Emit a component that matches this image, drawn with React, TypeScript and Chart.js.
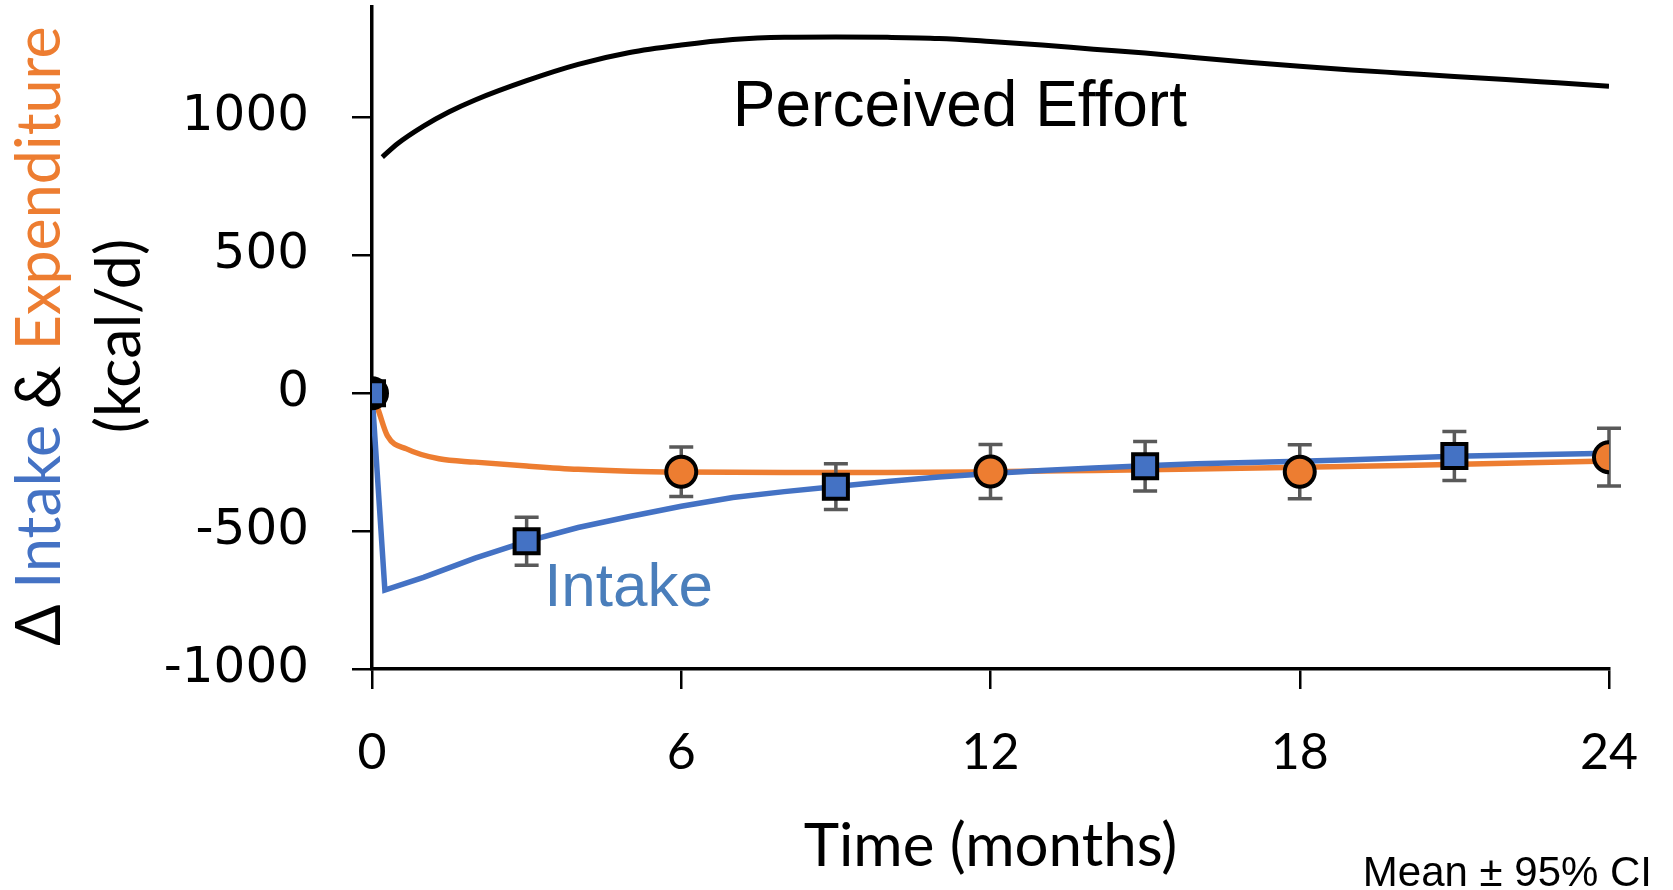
import React, { useEffect, useRef } from "react";
import { Chart, registerables } from "chart.js";

Chart.register(...registerables);

// Modelled perceived effort (kcal/d)
const effortMonths = [0.2, 0.5, 1, 1.5, 2, 3, 4, 5, 6, 7, 8, 9, 10, 11, 12, 13, 14, 15, 16, 17, 18, 19, 20, 21, 22, 23, 24];
const effortValues = [856, 905, 968, 1020, 1063, 1133, 1192, 1235, 1262, 1282, 1290, 1291, 1290, 1286, 1275, 1262, 1247, 1233, 1216, 1200, 1185, 1172, 1160, 1148, 1137, 1125, 1113];

// Modelled change in energy expenditure (kcal/d)
const expenditureMonths = [0, 0.12, 0.3, 0.67, 1.3, 2, 3, 4, 5, 6, 8, 10, 12, 14, 16, 18, 20, 22, 24];
const expenditureValues = [0, -60, -155, -202, -238, -250, -264, -276, -283, -286, -288, -288, -285, -280, -275, -269, -262, -254, -246];

// Modelled change in energy intake (kcal/d)
const intakeMonths = [0, 0.25, 1, 2, 3, 4, 5, 6, 7, 8, 9, 10, 11, 12, 13, 14, 15, 16, 17, 18, 19, 20, 21, 22, 23, 24];
const intakeValues = [0, -714, -668, -598, -537, -487, -447, -410, -378, -357, -338, -320, -304, -291, -280, -271, -263, -256, -251, -247, -241, -235, -229, -225, -221, -218];

// Measured means with 95% CI half-widths
const intakeMeasuredMonths = [0, 3, 9, 15, 21];
const intakeMeasuredMeans = [0, -537, -339, -265, -228];
const intakeMeasuredCI = [0, 87, 83, 90, 89];

const expenditureMeasuredMonths = [0, 6, 12, 18, 24];
const expenditureMeasuredMeans = [0, -285, -284, -285, -232];
const expenditureMeasuredCI = [0, 90, 98, 98, 105];

const xTickValues = [0, 6, 12, 18, 24];
const yTickValues = [-1000, -500, 0, 500, 1000];

const BLUE = "#4472C4";
const ORANGE = "#ED7D31";
const LABEL_BLUE = "#4A7EBB";
const ERR_GREY = "#595959";

const toPoints = (xs: number[], ys: number[]) => xs.map((x, i) => ({ x, y: ys[i] }));

const errorBarPlugin = {
  id: "errorBars",
  beforeDatasetDraw(chart: any, args: any) {
    const ds = chart.data.datasets[args.index];
    if (!ds.ci) return;
    const { ctx, scales } = chart;
    const xs = scales.x;
    const ys = scales.y;
    ctx.save();
    ctx.strokeStyle = ERR_GREY;
    ctx.lineWidth = 3.5;
    ds.data.forEach((p: any, i: number) => {
      const h = ds.ci[i];
      if (!h) return;
      const px = xs.getPixelForValue(p.x);
      const top = ys.getPixelForValue(p.y + h);
      const bot = ys.getPixelForValue(p.y - h);
      ctx.beginPath();
      ctx.moveTo(px, top);
      ctx.lineTo(px, bot);
      ctx.moveTo(px - 12, top);
      ctx.lineTo(px + 12, top);
      ctx.moveTo(px - 12, bot);
      ctx.lineTo(px + 12, bot);
      ctx.stroke();
    });
    ctx.restore();
  },
};

const textPlugin = {
  id: "texts",
  afterDraw(chart: any) {
    const { ctx, scales } = chart;
    const xs = scales.x;
    const ys = scales.y;
    ctx.save();

    // rotated y-axis title in two lines
    ctx.save();
    ctx.translate(60, 336);
    ctx.rotate(-Math.PI / 2);
    ctx.font = "61px Lato, 'DejaVu Sans'";
    ctx.textBaseline = "alphabetic";
    ctx.textAlign = "left";
    const parts: [string, string][] = [
      ["\u0394 ", "#000"],
      ["Intake", BLUE],
      [" & ", "#000"],
      ["Expenditure", ORANGE],
    ];
    const total = parts.reduce((s, [t]) => s + ctx.measureText(t).width, 0);
    let cx = -total / 2;
    for (const [t, c] of parts) {
      ctx.fillStyle = c;
      ctx.fillText(t, cx, 0);
      cx += ctx.measureText(t).width;
    }
    ctx.fillStyle = "#000";
    ctx.textAlign = "center";
    ctx.fillText("(kcal/d)", 0, 80);
    ctx.restore();

    // x-axis title
    ctx.fillStyle = "#000";
    ctx.font = "60px Lato";
    ctx.textAlign = "center";
    ctx.textBaseline = "alphabetic";
    ctx.fillText("Time (months)", (chart.chartArea.left + chart.chartArea.right) / 2, 866);

    // series annotations
    ctx.textAlign = "left";
    ctx.font = "64px 'Liberation Sans', Arial";
    ctx.fillStyle = "#000";
    ctx.fillText("Perceived Effort", xs.getPixelForValue(7.0), ys.getPixelForValue(970));
    ctx.font = "62px 'Liberation Sans', Arial";
    ctx.fillStyle = LABEL_BLUE;
    ctx.fillText("Intake", xs.getPixelForValue(3.34), ys.getPixelForValue(-770));

    // footnote
    ctx.fillStyle = "#000";
    ctx.font = "42px 'Liberation Sans', Arial";
    ctx.textAlign = "right";
    ctx.fillText("Mean \u00B1 95% CI", 1652, 886);
    ctx.restore();
  },
};

export default function App() {
  const canvasRef = useRef<HTMLCanvasElement | null>(null);

  useEffect(() => {
    const canvas = canvasRef.current;
    if (!canvas) return;
    const chart = new Chart(canvas, {
      type: "line",
      data: {
        datasets: [
          {
            label: "Intake (measured)",
            data: toPoints(intakeMeasuredMonths, intakeMeasuredMeans),
            ci: intakeMeasuredCI,
            showLine: false,
            pointStyle: "rect",
            pointRadius: 17,
            backgroundColor: BLUE,
            pointBackgroundColor: BLUE,
            pointBorderColor: "#000",
            pointBorderWidth: 4,
            order: 0,
          } as any,
          {
            label: "Expenditure (measured)",
            data: toPoints(expenditureMeasuredMonths, expenditureMeasuredMeans),
            ci: expenditureMeasuredCI,
            showLine: false,
            pointStyle: "circle",
            pointRadius: 15,
            backgroundColor: ORANGE,
            pointBackgroundColor: ORANGE,
            pointBorderColor: "#000",
            pointBorderWidth: 4,
            order: 1,
          } as any,
          {
            label: "Intake",
            data: toPoints(intakeMonths, intakeValues),
            borderColor: BLUE,
            borderWidth: 5.5,
            pointRadius: 0,
            tension: 0,
            fill: false,
            order: 2,
          },
          {
            label: "Expenditure",
            data: toPoints(expenditureMonths, expenditureValues),
            borderColor: ORANGE,
            borderWidth: 5.5,
            pointRadius: 0,
            cubicInterpolationMode: "monotone",
            fill: false,
            order: 3,
          },
          {
            label: "Perceived Effort",
            data: toPoints(effortMonths, effortValues),
            borderColor: "#000",
            borderWidth: 5,
            pointRadius: 0,
            cubicInterpolationMode: "monotone",
            fill: false,
            order: 4,
          },
        ],
      },
      options: {
        responsive: false,
        animation: false,
        devicePixelRatio: 1,
        layout: { autoPadding: false, padding: { top: 7, right: 64, bottom: 0, left: 0 } },
        plugins: {
          legend: { display: false },
          tooltip: { enabled: false },
          title: { display: false },
        },
        scales: {
          x: {
            type: "linear",
            min: 0,
            max: 24,
            afterBuildTicks: (s: any) => {
              s.ticks = xTickValues.map((v) => ({ value: v }));
            },
            afterFit: (s: any) => {
              s.height = 221;
              s.paddingLeft = 0;
              s.paddingRight = 0;
            },
            grid: {
              display: true,
              drawOnChartArea: false,
              drawTicks: true,
              tickLength: 20,
              color: "#000",
              lineWidth: 2.5,
            },
            border: { display: true, color: "#000", width: 3.5 },
            ticks: {
              padding: 34,
              color: "#000",
              font: { family: "Lato", size: 50 },
              maxRotation: 0,
              autoSkip: false,
              callback: (v: any) => String(v),
            },
          },
          y: {
            type: "linear",
            min: -1000,
            max: 1400,
            afterBuildTicks: (s: any) => {
              s.ticks = yTickValues.map((v) => ({ value: v }));
            },
            afterFit: (s: any) => {
              s.width = 372;
              s.paddingTop = 0;
              s.paddingBottom = 0;
            },
            grid: {
              display: true,
              drawOnChartArea: false,
              drawTicks: true,
              tickLength: 20,
              color: "#000",
              lineWidth: 2.5,
            },
            border: { display: true, color: "#000", width: 3.5 },
            ticks: {
              padding: 43,
              color: "#000",
              font: { family: "'DejaVu Sans'", size: 50 },
              autoSkip: false,
              callback: (v: any) => String(v),
            },
          },
        },
      } as any,
      plugins: [errorBarPlugin, textPlugin],
    });
    return () => chart.destroy();
  }, []);

  return (
    <div style={{ position: "absolute", left: 0, top: 0, width: 1673, height: 890, background: "#fff" }}>
      <canvas ref={canvasRef} width={1673} height={890} style={{ display: "block" }} />
    </div>
  );
}
